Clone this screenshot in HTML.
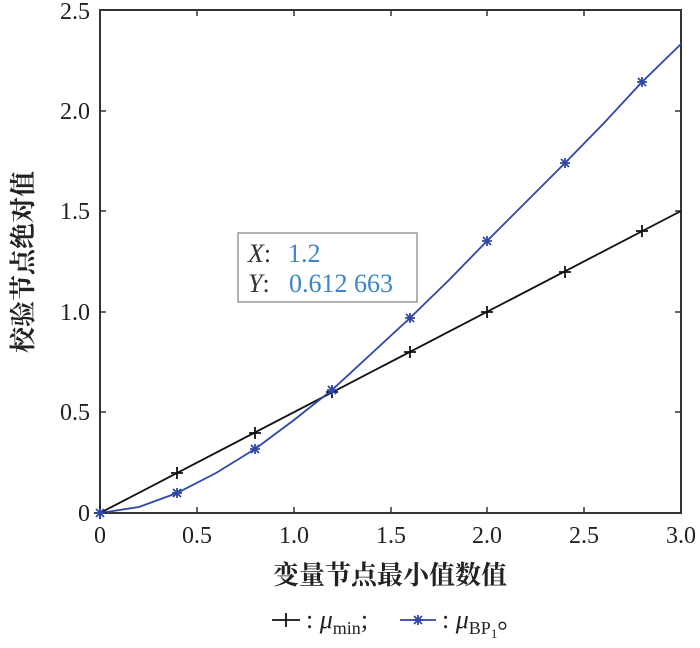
<!DOCTYPE html>
<html><head><meta charset="utf-8"><style>
body{margin:0;background:#fff;}
svg text{font-family:"Liberation Serif","Noto Serif CJK SC",serif;}
</style></head><body>
<svg width="700" height="643" viewBox="0 0 700 643" xmlns="http://www.w3.org/2000/svg">
<rect width="700" height="643" fill="#fff"/>
<g stroke="#333" stroke-width="2" fill="none">
<rect x="100" y="10" width="581" height="503"/>
</g>
<g stroke="#333" stroke-width="1.5">
<path d="M197 513v-6M294 513v-6M391 513v-6M487 513v-6M584 513v-6M197 10v6M294 10v6M391 10v6M487 10v6M584 10v6"/>
<path d="M100 412h6M100 312h6M100 211h6M100 111h6M681 412h-6M681 312h-6M681 211h-6M681 111h-6"/>
</g>
<g font-size="24" fill="#222" text-anchor="middle">
<text x="100" y="543">0</text><text x="197" y="543">0.5</text><text x="294" y="543">1.0</text><text x="391" y="543">1.5</text><text x="487" y="543">2.0</text><text x="584" y="543">2.5</text><text x="681" y="543">3.0</text>
</g>
<g font-size="24" fill="#222" text-anchor="end">
<text x="90" y="521">0</text><text x="90" y="420">0.5</text><text x="90" y="320">1.0</text><text x="90" y="219">1.5</text><text x="90" y="119">2.0</text><text x="90" y="19">2.5</text>
</g>
<text x="390" y="584" font-size="26" font-weight="bold" text-anchor="middle" fill="#222">变量节点最小值数值</text>
<text transform="translate(32 262) rotate(-90)" font-size="26" font-weight="bold" text-anchor="middle" fill="#222">校验节点绝对值</text>
<polyline points="100,513 681,211" stroke="#111" stroke-width="1.8" fill="none"/>
<polyline fill="none" stroke="#2f47a8" stroke-width="1.8" points="100,513 139,507 177,493 216,473 255,449 294,420 332,390 371,354 410,318 449,280 487,241 526,202 565,163 604,123 642,82 681,44"/>
<g stroke="#111" stroke-width="1.8">
<path d="M100 507v12M94 513h12M177 467v12M171 473h12M255 427v12M249 433h12M332 386v12M326 392h12M410 346v12M404 352h12M487 306v12M481 312h12M565 266v12M559 272h12M642 225v12M636 231h12"/>
</g>
<defs><g id="s" stroke="#2f47a8" stroke-width="1.8"><path d="M-5 0h10M0 -5v10M-4 -4l8 8M-4 4l8 -8"/></g></defs>
<use href="#s" x="100" y="513"/><use href="#s" x="177" y="493"/><use href="#s" x="255" y="449"/><use href="#s" x="332" y="390"/><use href="#s" x="410" y="318"/><use href="#s" x="487" y="241"/><use href="#s" x="565" y="163"/><use href="#s" x="642" y="82"/>
<rect x="238" y="233" width="179" height="69" fill="#fff" fill-opacity="0.95" stroke="#999" stroke-width="1.5"/>
<g font-size="26">
<text x="248" y="262" font-style="italic" fill="#333">X<tspan font-style="normal">:</tspan></text><text x="288" y="262" fill="#3a86c8">1.2</text>
<text x="248" y="292" font-style="italic" fill="#333">Y<tspan font-style="normal">:</tspan></text><text x="289" y="292" fill="#3a86c8">0.612 663</text>
</g>
<g>
<path d="M272 620h28M286 613v14" stroke="#111" stroke-width="1.8"/>
<text x="306" y="628" font-size="26" fill="#222">: <tspan font-style="italic">μ</tspan><tspan font-size="18" dy="6">min</tspan><tspan dy="-6">;</tspan></text>
<path d="M400 620h36" stroke="#2f47a8" stroke-width="1.8"/>
<use href="#s" x="418" y="620"/>
<text x="442" y="628" font-size="26" fill="#222">: <tspan font-style="italic">μ</tspan><tspan font-size="18" dy="6">BP</tspan><tspan font-size="13" dy="4">1</tspan><tspan dy="-10" font-family="Noto Sans CJK SC">。</tspan></text>
</g>
</svg>
</body></html>
